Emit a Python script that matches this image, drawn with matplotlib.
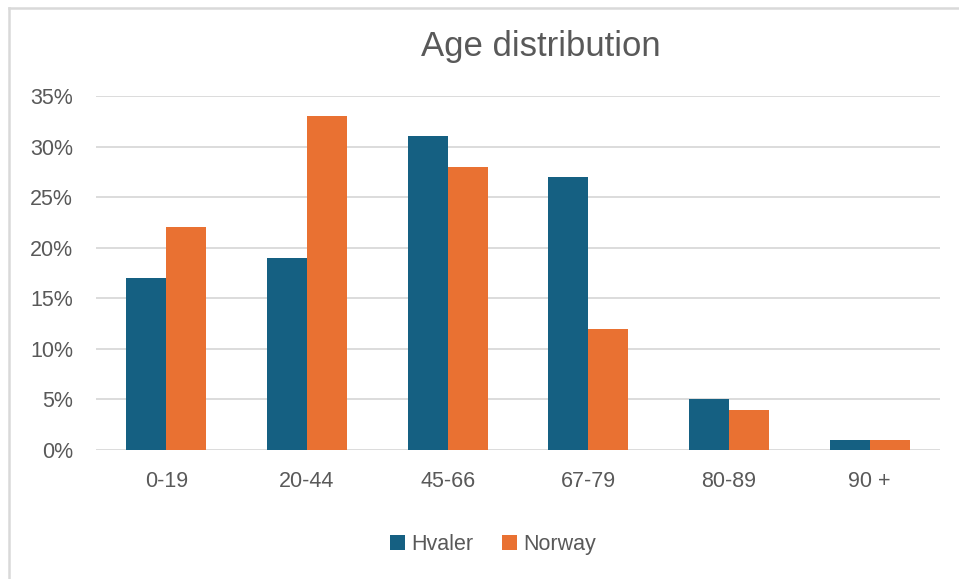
import matplotlib
matplotlib.use("Agg")
import matplotlib.pyplot as plt
from matplotlib.lines import Line2D
from matplotlib.ticker import PercentFormatter
import numpy as np

age_groups = ["0-19", "20-44", "45-66", "67-79", "80-89", "90 +"]
hvaler = [0.17, 0.19, 0.31, 0.27, 0.05, 0.01]
norway = [0.22, 0.33, 0.28, 0.12, 0.04, 0.01]

text_col = "#595959"
grid_col = "#D9D9D9"
plt.rcParams['font.family'] = ['Liberation Sans', 'DejaVu Sans']

fig = plt.figure(figsize=(9.59, 5.79), dpi=100)
ax = fig.add_axes([0.1001, 0.2228, 0.8801, 0.6114])

x = np.arange(len(age_groups))
w = 0.285
ax.bar(x - w / 2, hvaler, w, color="#156082", label="Hvaler", zorder=3)
ax.bar(x + w / 2, norway, w, color="#E97132", label="Norway", zorder=3)

ax.set_xlim(-0.5, len(age_groups) - 0.5)
ax.set_ylim(0, 0.35)
ax.set_yticks(np.arange(0, 0.351, 0.05))
ax.yaxis.set_major_formatter(PercentFormatter(1.0, decimals=0))
ax.set_xticks(x)
ax.set_xticklabels(age_groups)
ax.grid(axis="y", color=grid_col, linewidth=1.3, zorder=0)
for s in ax.spines.values():
    s.set_visible(False)
ax.tick_params(length=0, labelsize=15.5, colors=text_col)
ax.tick_params(axis="x", pad=15)
ax.tick_params(axis="y", pad=16.5)

fig.text(0.564, 0.9033, "Age distribution", ha="center", va="baseline",
         fontsize=25, color=text_col)

fig.legend(loc="center", bbox_to_anchor=(0.514, 0.06), ncol=2, frameon=False,
           fontsize=15.5, labelcolor=text_col, handlelength=0.7, handleheight=0.7,
           handletextpad=0.3, columnspacing=1.3)

# outer chart frame (top and left edges)
fig.add_artist(Line2D([0.0089, 0.0089], [0.0, 0.9870], transform=fig.transFigure,
                      color=grid_col, linewidth=1.8))
fig.add_artist(Line2D([0.0089, 1.0], [0.9870, 0.9870], transform=fig.transFigure,
                      color=grid_col, linewidth=1.8))

fig.savefig("out.png", dpi=100, facecolor="white")
